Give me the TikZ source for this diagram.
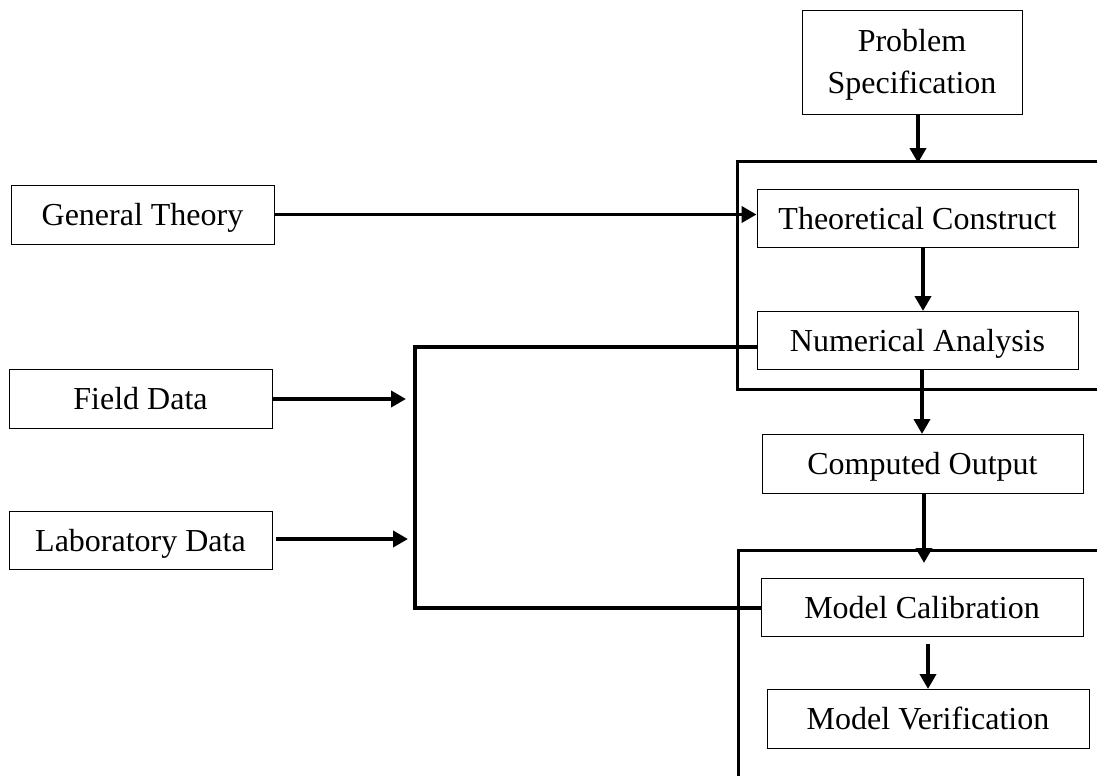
\documentclass[tikz,border=0pt]{standalone}
\usepackage{fontspec}
\setmainfont{Liberation Serif}
\usetikzlibrary{arrows.meta}
\begin{document}
\begin{tikzpicture}[x=1pt,y=-1pt,
  box/.style={draw, line width=0.9pt, inner sep=0pt, align=center, font=\fontsize{32}{42}\selectfont},
  wbox/.style={box, minimum width=321pt, minimum height=58pt, text height=22pt, text depth=0pt},
  lbox/.style={box, minimum width=263pt, minimum height=59pt, text height=22pt, text depth=0pt},
  conn/.style={line width=3.8pt},
  arr/.style={conn, -{Triangle[width=16pt,length=15pt]}},
  frame/.style={line width=3pt}
]
\useasboundingbox (0,0) rectangle (1097,776);
% nodes
\node[box, minimum width=220pt, minimum height=104pt] (PS) at (912,62) {};
\node[font=\fontsize{32}{42}\selectfont, align=center, inner sep=0pt] (PSt) at (912,64.5) {Problem\\Specification};
\node[lbox] (GT) at (142.5,214.5) {General Theory};
\node[lbox] (FD) at (140.5,398.5) {Field Data};
\node[lbox, minimum height=58pt] (LD) at (140.5,540) {Laboratory Data};
\node[wbox] (TC) at (917.5,218) {Theoretical Construct};
\node[wbox] (NA) at (917.5,340) {Numerical Analysis};
\node[wbox, minimum height=59pt] (CO) at (922.5,463.5) {Computed Output};
\node[wbox, minimum width=322pt] (MC) at (922,607) {Model Calibration};
\node[wbox, minimum width=322pt, minimum height=59pt] (MV) at (928,718.5) {Model Verification};
% container frames (cut off at right / bottom)
\coordinate (UTL) at (737,161);
\coordinate (UBL) at (737,389);
\coordinate (UTR) at (1097,161);
\coordinate (UBR) at (1097,389);
\coordinate (LTL) at (738,550);
\coordinate (LTR) at (1097,550);
\coordinate (LBL) at (738,776);
\draw[frame] (UTR) -- (UTL) -- (UBL) -- (UBR);
\draw[frame] (LTR) -- (LTL) -- (LBL);
% vertical arrows
\draw[arr] (PS.south -| 918,0) -- (918,163);
\draw[arr] (TC.south -| 923,0) -- (923,311);
\draw[arr] (NA.south -| 922,0) -- (922,434);
\draw[arr] (CO.south -| 924,0) -- (924,563);
\draw[arr] (928,644) -- (928,689);
% general theory
\draw[arr] (GT.east) -- (GT.east -| TC.west);
% data bracket
\coordinate (BT) at (415,347);
\coordinate (BB) at (415,608);
\draw[conn, line join=miter] (NA.west |- BT) -- (BT) -- (BB) -- (MC.west |- BB);
\coordinate (FDt) at (406,399);
\coordinate (LDt) at (408,539);
\draw[arr] (FD.east |- FDt) -- (FDt);
\draw[arr] ([xshift=4pt]LD.east |- LDt) -- (LDt);
\end{tikzpicture}
\end{document}
